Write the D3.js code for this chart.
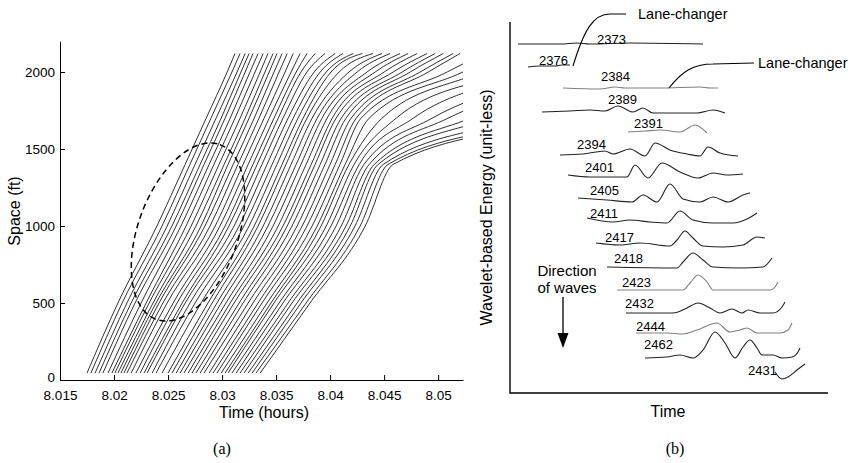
<!DOCTYPE html>
<html>
<head>
<meta charset="utf-8">
<script src="https://cdn.jsdelivr.net/npm/d3@7"></script>
<style>
body { margin: 0; background: #fff; }
svg { display: block; font-family: "Liberation Sans", Arial, sans-serif; }
</style>
</head>
<body>
<svg id="chart" width="852" height="463"></svg>
<script>
// ---------- panel (a): vehicle trajectories ----------
// space levels (ft) and, for each vehicle, the time it passes them (seconds after 8:00)
var spaceLevels = [45, 500, 1000, 1400, 1700, 2000, 2120];
var trajectories = [
    [63.0, 73.3, 86.3, 95.7, 102.7, 109.7, 112.3],
    [64.3, 74.7, 88.0, 97.3, 104.3, 111.3, 114.0],
    [65.7, 76.3, 89.7, 99.0, 106.0, 113.0, 115.7],
    [67.0, 77.7, 91.3, 100.7, 107.7, 114.3, 117.0],
    [68.3, 79.0, 92.7, 102.0, 109.0, 115.7, 118.3],
    [70.0, 81.0, 94.3, 103.7, 110.7, 117.3, 120.0],
    [71.3, 82.7, 96.0, 105.3, 112.3, 119.0, 121.7],
    [72.3, 83.7, 97.7, 107.0, 114.0, 120.7, 123.3],
    [73.3, 85.0, 99.3, 108.7, 115.7, 122.3, 125.0],
    [74.3, 86.0, 101.0, 110.0, 117.0, 123.7, 126.3],
    [75.3, 87.0, 102.3, 111.7, 118.7, 125.3, 128.0],
    [76.3, 88.3, 104.0, 113.3, 120.3, 127.0, 129.7],
    [77.7, 89.7, 105.7, 115.0, 122.0, 129.0, 131.7],
    [79.3, 91.7, 107.3, 116.7, 123.7, 131.0, 134.0],
    [80.7, 93.0, 109.0, 118.3, 125.3, 132.7, 136.3],
    [82.0, 94.7, 110.3, 119.7, 126.7, 134.3, 139.0],
    [83.0, 95.7, 112.0, 121.3, 128.3, 136.3, 142.3],
    [84.7, 97.3, 113.7, 123.0, 130.0, 138.7, 145.7],
    [86.0, 99.0, 115.3, 124.7, 131.7, 140.7, 148.3],
    [88.0, 101.0, 117.0, 126.3, 133.3, 142.7, 151.7],
    [90.0, 103.3, 118.7, 128.0, 135.0, 144.3, 154.7],
    [91.3, 104.7, 120.0, 129.3, 136.3, 147.0, 158.3],
    [92.7, 106.3, 121.7, 131.0, 138.0, 150.3, 161.3],
    [94.0, 107.7, 123.3, 132.7, 139.7, 153.0, 164.0],
    [95.3, 109.3, 125.0, 134.3, 141.3, 156.3, 167.3],
    [96.7, 110.7, 126.7, 136.0, 143.0, 159.0, 170.0],
    [98.0, 112.0, 128.3, 137.7, 144.7, 162.0, 173.0],
    [99.3, 113.7, 129.7, 139.0, 146.0, 165.0, 176.3],
    [100.7, 115.0, 131.3, 140.7, 147.7, 168.0, 179.0],
    [102.0, 116.7, 133.0, 142.3, 149.3, 170.7, 181.7],
    [103.7, 118.3, 134.7, 144.0, 151.0, 174.0, 185.0],
    [105.0, 120.0, 136.3, 145.7, 152.7, 176.7, 187.3],
    [106.3, 121.3, 138.0, 147.3, 154.3, 183.0, 195.0],
    [107.7, 123.0, 139.7, 149.0, 157.0, 188.3, 201.3],
    [109.0, 124.3, 141.0, 150.3, 161.3, 194.0, 207.3],
    [110.0, 125.3, 142.7, 152.0, 166.0, 202.7, 217.7],
    [111.3, 127.0, 144.3, 153.7, 171.7, 210.0, 225.7],
    [112.7, 128.3, 146.0, 155.3, 178.0, 220.3, 238.0],
    [114.0, 130.0, 147.7, 157.0, 183.3, 226.0, 243.7],
    [115.3, 131.3, 149.3, 158.7, 190.7, 237.0, 256.3],
    [116.7, 133.0, 150.7, 160.0, 197.3, 245.3, 265.0],
    [118.0, 134.3, 152.3, 161.7, 207.3, 252.7, 272.7],
    [119.3, 136.0, 154.0, 163.3, 215.7, 260.7, 280.3],
    [120.7, 137.3, 155.7, 165.0, 220.7, 266.7, 286.7]
];
var timeTicks = [8.015, 8.02, 8.025, 8.03, 8.035, 8.04, 8.045, 8.05];
var spaceTicks = [0, 500, 1000, 1500, 2000];
// dashed ellipse around the wave: centre (hours, ft)
var waveCentre = [8.02685, 961];

// ---------- panel (b): wavelet energy per vehicle ----------
var vehicleIds = ["2373", "2376", "2384", "2389", "2391", "2394", "2401", "2405",
    "2411", "2417", "2418", "2423", "2432", "2444", "2462", "2431"];
var baselines = [349, 327, 305, 281, 261, 238, 217, 193, 172, 148, 126, 103, 80, 60, 36, 21];
var energy = [
    [[8, 0], [50, 0], [67, 1], [80, 0], [120, 1], [193, 0]],
    [[18, -1], [30, 0], [45, 0], [52, 1], [60, 1]],
    [[53, 0], [90, -1], [105, 1], [115, 0], [150, 0], [190, 1], [200, 0], [208, 0]],
    [[32, 0], [60, 1], [80, 2], [95, 1], [108, 6], [123, 0], [133, 4], [143, -1], [187, -1], [203, 2], [215, -1]],
    [[118, 0], [135, 1], [150, 2], [170, 0], [185, 7], [197, -1]],
    [[50, 0], [73, 1], [95, 4], [103, 1], [120, 6], [135, -1], [145, 12], [160, 5], [177, 1], [190, -1], [198, 8], [210, 2], [228, -1]],
    [[58, 1], [80, -1], [117, -1], [125, 11], [138, -2], [152, 13], [170, 4], [188, -2], [203, 3], [217, 1], [233, 2]],
    [[68, 2], [97, 0], [122, -2], [133, 5], [147, -2], [160, 16], [173, 1], [190, -2], [203, 3], [218, -2], [233, 5], [240, 7]],
    [[77, 3], [103, -1], [120, 1], [140, -1], [157, -2], [170, 10], [183, 1], [203, -2], [223, -2], [237, 2], [247, 8]],
    [[86, 2], [110, 0], [130, 2], [160, -1], [167, 5], [175, 14], [183, 7], [193, -1], [213, -2], [233, 0], [247, 8], [255, 7]],
    [[97, 0], [167, -1], [173, 5], [183, 14], [193, 7], [203, 0], [230, -1], [253, 0], [262, 9]],
    [[107, 0], [173, 0], [180, 7], [188, 15], [197, 8], [203, 0], [260, 0], [265, 3], [268, 8]],
    [[116, 0], [163, 0], [177, 5], [188, 10], [200, 5], [210, 0], [222, 4], [232, 0], [238, 3], [250, 0], [263, 0], [272, 6], [275, 11]],
    [[126, 0], [157, 0], [173, -1], [187, 3], [207, 10], [220, 1], [230, 3], [237, 5], [247, 0], [270, 0], [278, 3], [282, 10]],
    [[135, -1], [157, 0], [170, 2], [183, -1], [193, 7], [205, 25], [215, 14], [225, -1], [233, 10], [240, 17], [247, 9], [252, 2], [263, 2], [272, -1], [282, 0], [288, 5], [290, 9]],
    [[265, 0], [272, -7], [278, -5], [287, 2], [295, 8]]
];
var labelAt = [[87, 349], [29, 328], [91, 312], [98, 289], [124, 265], [67, 244], [75, 221], [80, 198],
    [80, 175], [95, 151], [104, 130], [112, 106], [115, 85], [126, 62], [134, 44], [238, 18]];
var lightTraces = ["2384", "2391", "2423", "2444"];
// lane-changer call-outs: leader line points (time, energy) and where the word starts
var laneChangers = [
    [[116, 379], [100, 379], [63, 327]],
    [[244, 330], [203, 329], [159, 305]]
];
var laneChangerText = [[128, 374], [248, 325]];

var svg = d3.select("#chart");

// ================= panel (a) =================
var xA = d3.scaleLinear().domain([8.015, 8.0523]).range([60, 463]);
var yA = d3.scaleLinear().domain([0, 2200]).range([380, 41.2]);

svg.append("clipPath").attr("id", "clipA")
    .append("rect")
    .attr("x", xA.range()[0]).attr("y", yA.range()[1])
    .attr("width", xA.range()[1] - xA.range()[0])
    .attr("height", yA.range()[0] - yA.range()[1]);

var traj = d3.line()
    .x(function (d) { return xA(8 + d[0] / 3600); })
    .y(function (d) { return yA(d[1]); })
    .curve(d3.curveMonotoneX);

svg.append("g")
    .attr("clip-path", "url(#clipA)")
    .selectAll("path")
    .data(trajectories)
    .enter()
    .append("path")
    .attr("fill", "none")
    .attr("stroke", "#1a1a1a")
    .attr("stroke-width", 0.9)
    .attr("d", function (row) {
        return traj(row.map(function (t, k) { return [t, spaceLevels[k]]; }));
    });

svg.append("ellipse")
    .attr("cx", 0).attr("cy", 0)
    .attr("rx", 93).attr("ry", 50)
    .attr("transform", "translate(" + xA(waveCentre[0]) + "," + yA(waveCentre[1]) + ") rotate(-70)")
    .attr("fill", "none")
    .attr("stroke", "#000")
    .attr("stroke-width", 1.5)
    .attr("stroke-dasharray", "6,4");

var gx = svg.append("g")
    .attr("transform", "translate(0," + yA(0) + ")")
    .call(d3.axisBottom(xA).tickValues(timeTicks)
        .tickFormat(function (d) { return String(d); })
        .tickSize(-5).tickSizeOuter(0).tickPadding(10));

var gy = svg.append("g")
    .attr("transform", "translate(" + xA.range()[0] + ",0)")
    .call(d3.axisLeft(yA).tickValues(spaceTicks)
        .tickFormat(function (d) { return String(d); })
        .tickSize(-5).tickSizeOuter(0).tickPadding(5));

[gx, gy].forEach(function (g) {
    g.attr("font-family", "Liberation Sans, Arial, sans-serif").attr("font-size", 13.5);
    g.selectAll("text").attr("fill", "#000");
});
// the "0" label sits a little above the axis line, as in the original
gy.selectAll(".tick text").filter(function (d) { return d === 0; }).attr("dy", "0.1em");

svg.append("text")
    .attr("x", 264).attr("y", 418)
    .attr("text-anchor", "middle")
    .attr("font-size", 16)
    .text("Time (hours)");

svg.append("text")
    .attr("transform", "translate(20,211) rotate(-90)")
    .attr("text-anchor", "middle")
    .attr("font-size", 16)
    .text("Space (ft)");

// ================= panel (b) =================
var xB = d3.scaleLinear().domain([0, 318]).range([510, 828]);
var yB = d3.scaleLinear().domain([0, 371]).range([393, 22]);

svg.append("path")
    .attr("fill", "none")
    .attr("stroke", "#000")
    .attr("stroke-width", 1.4)
    .attr("d", "M" + xB(0) + "," + yB(371) + "V" + yB(0) + "H" + xB(318));

var wave = d3.line()
    .x(function (d) { return xB(d[0]); })
    .y(function (d) { return yB(d[1]); })
    .curve(d3.curveMonotoneX);

svg.append("g")
    .selectAll("path")
    .data(energy)
    .enter()
    .append("path")
    .attr("fill", "none")
    .attr("stroke", function (d, i) {
        return lightTraces.indexOf(vehicleIds[i]) >= 0 ? "#808080" : "#222";
    })
    .attr("stroke-width", 1.1)
    .attr("d", function (pts, i) {
        return wave(pts.map(function (p) { return [p[0], baselines[i] + p[1]]; }));
    });

svg.append("g")
    .selectAll("text")
    .data(vehicleIds)
    .enter()
    .append("text")
    .attr("x", function (d, i) { return xB(labelAt[i][0]); })
    .attr("y", function (d, i) { return yB(labelAt[i][1]); })
    .attr("font-size", 13)
    .text(function (d) { return d; });

// lane-changer leaders
laneChangers.forEach(function (c, i) {
    var p = c.map(function (q) { return [xB(q[0]), yB(q[1])]; });
    svg.append("path")
        .attr("fill", "none")
        .attr("stroke", "#000")
        .attr("stroke-width", 1.1)
        .attr("d", "M" + p[0] + "L" + p[1] +
            "C" + (p[1][0] - 0.45 * (p[1][0] - p[2][0])) + "," + p[1][1] + " " +
            (p[2][0] + 0.3 * (p[1][0] - p[2][0])) + "," + (p[1][1] + 0.3 * (p[2][1] - p[1][1])) + " " + p[2]);
    svg.append("text")
        .attr("x", xB(laneChangerText[i][0])).attr("y", yB(laneChangerText[i][1]))
        .attr("font-size", 14.5)
        .text("Lane-changer");
});

// direction of waves
svg.append("text")
    .attr("x", xB(57)).attr("y", yB(117))
    .attr("text-anchor", "middle").attr("font-size", 15)
    .text("Direction");
svg.append("text")
    .attr("x", xB(57)).attr("y", yB(100))
    .attr("text-anchor", "middle").attr("font-size", 15)
    .text("of waves");
svg.append("line")
    .attr("x1", xB(53)).attr("x2", xB(53))
    .attr("y1", yB(96)).attr("y2", yB(58))
    .attr("stroke", "#000").attr("stroke-width", 1.3);
svg.append("path")
    .attr("fill", "#000")
    .attr("d", "M" + (xB(53) - 5.5) + "," + yB(60) + "L" + (xB(53) + 5.5) + "," + yB(60) +
        "L" + xB(53) + "," + yB(45) + "Z");

svg.append("text")
    .attr("x", xB(158)).attr("y", 417)
    .attr("text-anchor", "middle").attr("font-size", 16)
    .text("Time");

svg.append("text")
    .attr("transform", "translate(492," + yB(185.5) + ") rotate(-90)")
    .attr("text-anchor", "middle").attr("font-size", 16)
    .text("Wavelet-based Energy (unit-less)");

// sub-captions
svg.selectAll("text.cap")
    .data([["(a)", 222], ["(b)", 675]])
    .enter()
    .append("text")
    .attr("class", "cap")
    .attr("x", function (d) { return d[1]; })
    .attr("y", 454)
    .attr("text-anchor", "middle")
    .attr("font-family", "Liberation Serif, Times New Roman, serif")
    .attr("font-size", 16)
    .text(function (d) { return d[0]; });
</script>
</body>
</html>
